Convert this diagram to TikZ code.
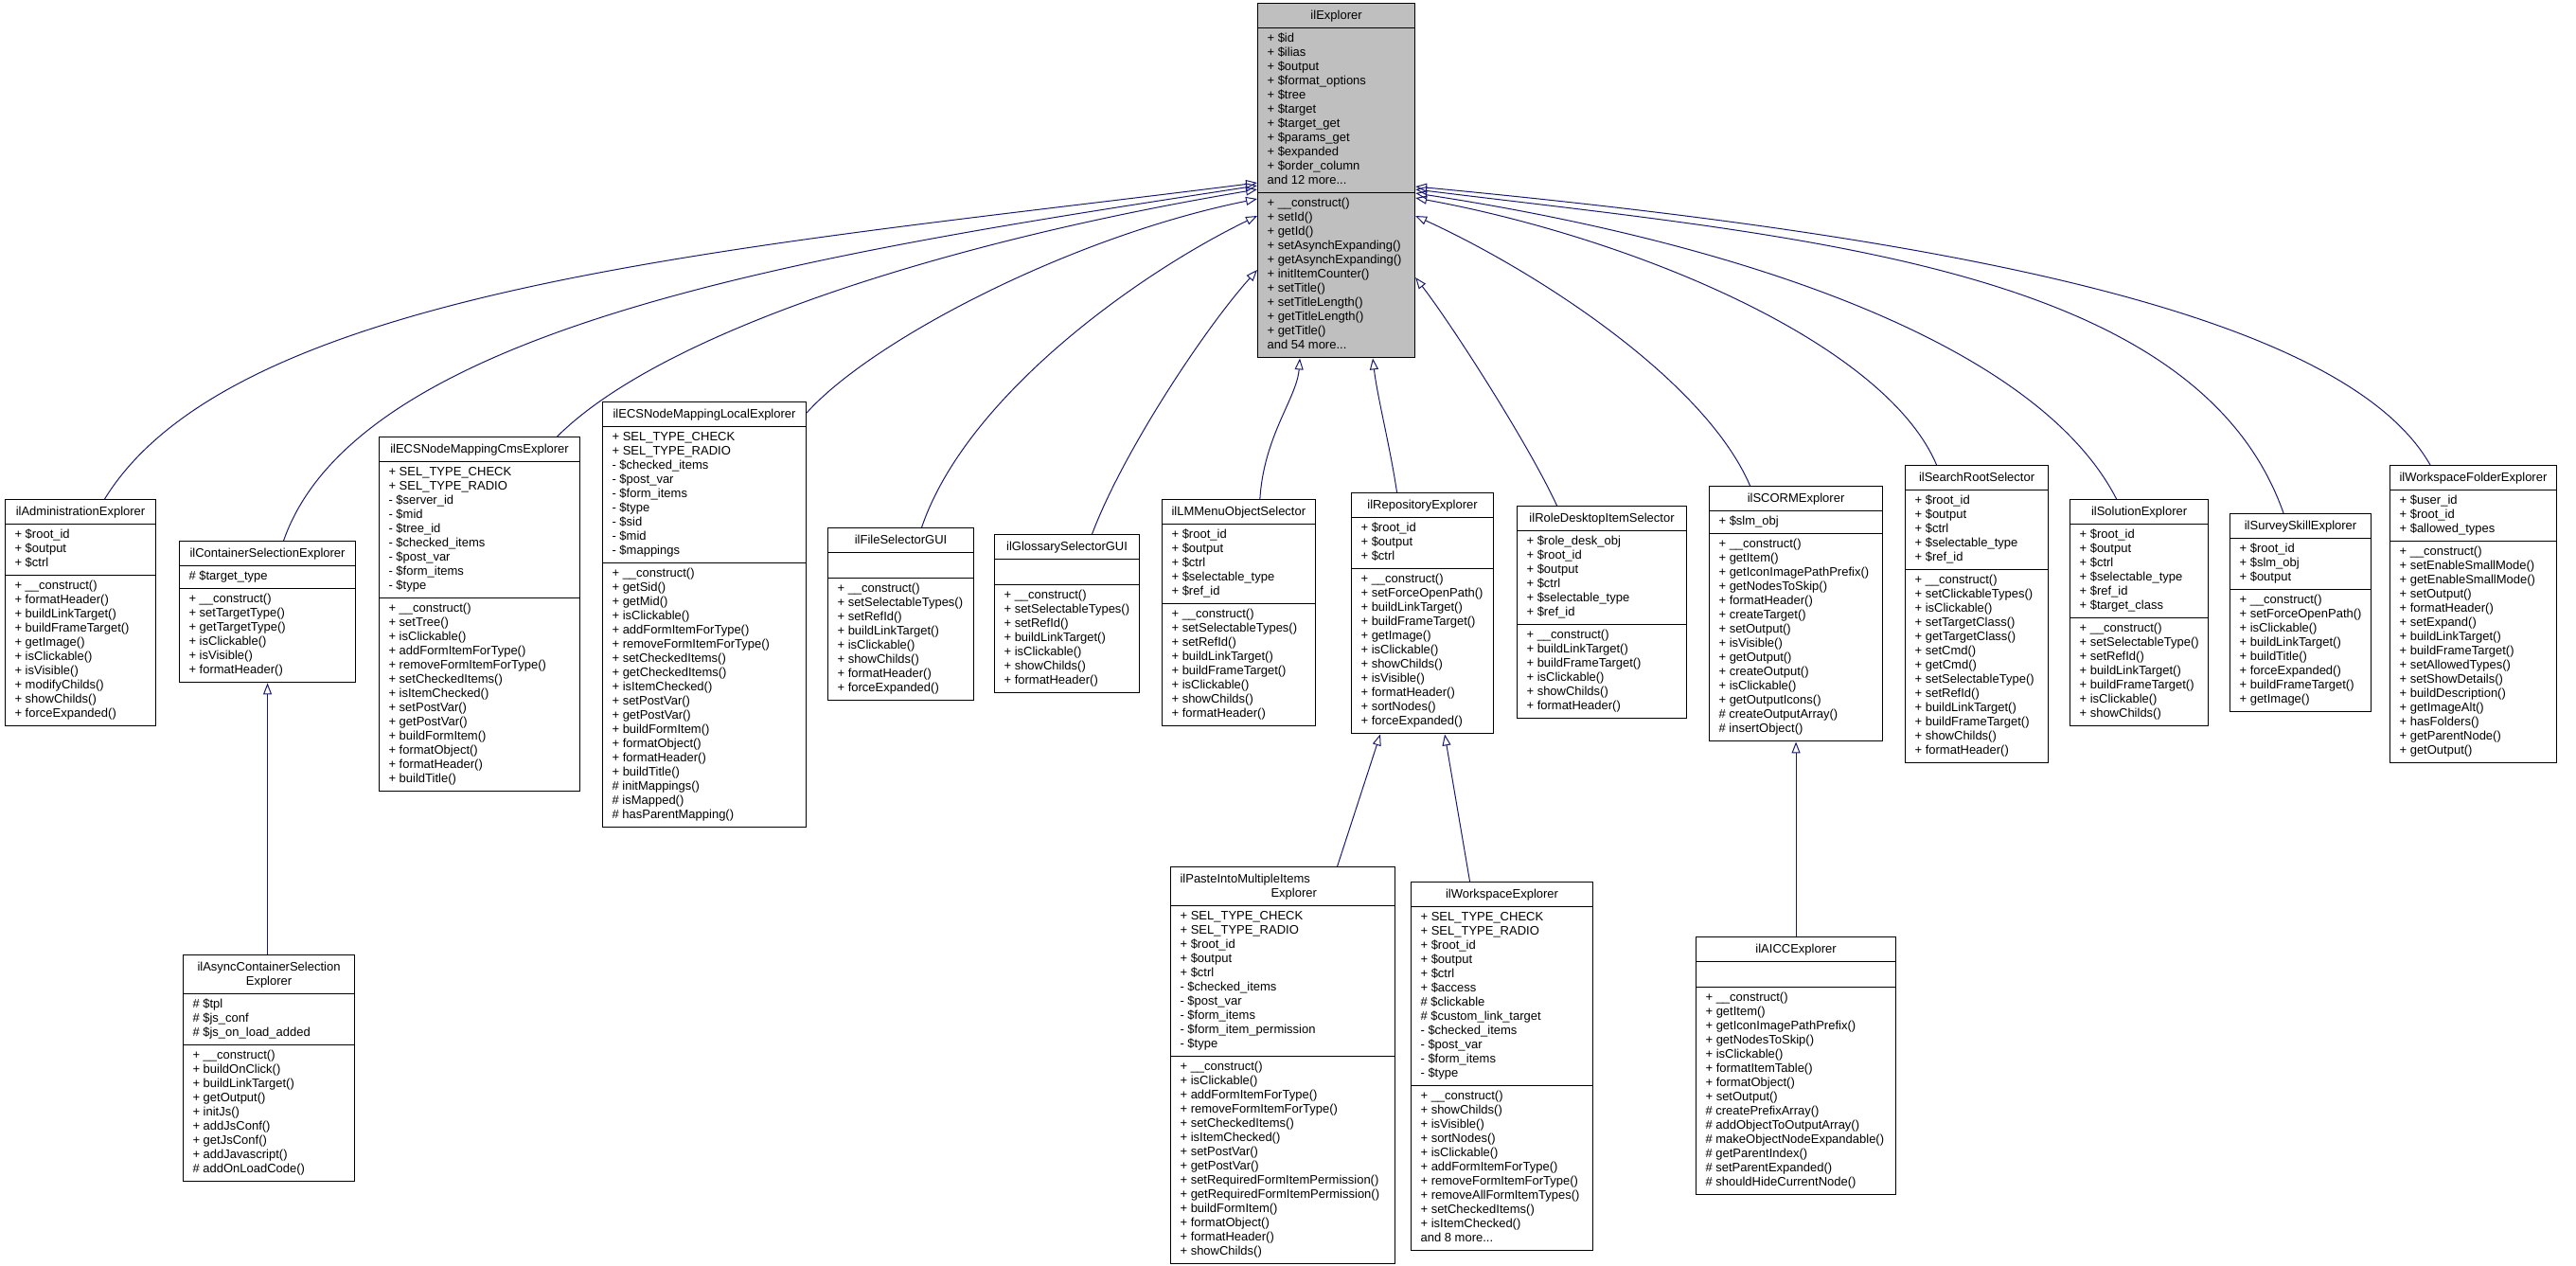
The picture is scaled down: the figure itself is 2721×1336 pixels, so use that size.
\documentclass[tikz,border=0pt]{standalone}
\usepackage{fontspec}
\setmainfont{Liberation Sans}
\usetikzlibrary{shapes.multipart,arrows.meta}
\definecolor{edgeblue}{RGB}{25,25,112}
\definecolor{rootgray}{RGB}{191,191,191}
\newcommand\ttl[1]{\rule[-5pt]{0pt}{17pt}#1}
\newcommand\st{\rule[-4.5pt]{0pt}{15pt}}
\newcommand\emptysec{\rule{0pt}{18pt}}
\begin{document}
\begin{tikzpicture}[x=1pt,y=-1pt,
  cls/.style={rectangle split, rectangle split parts=3, draw=black, line width=1.1pt,
    fill=white, inner xsep=10pt, inner ysep=4pt, align=left,
    rectangle split part align={center,left,left},
    font=\fontsize{13}{15}\selectfont, anchor=north west},
  inh/.style={draw=edgeblue, line width=1pt, -{Triangle[open,length=12pt,width=9pt]}}]
\path[use as bounding box] (0,0) rectangle (2721,1336);

% ---- base class ----
\node[cls, fill=rootgray, minimum width=166pt] (root) at (1328,3)
{\ttl{ilExplorer}\nodepart{two}\st+ \$id\\+ \$ilias\\+ \$output\\+ \$format\_options\\+ \$tree\\+ \$target\\+ \$target\_get\\+ \$params\_get\\+ \$expanded\\+ \$order\_column\\and 12 more...\st
\nodepart{three}\st+ \_\_construct()\\+ setId()\\+ getId()\\+ setAsynchExpanding()\\+ getAsynchExpanding()\\+ initItemCounter()\\+ setTitle()\\+ setTitleLength()\\+ getTitleLength()\\+ getTitle()\\and 54 more...\st};

% ---- children ----
\node[cls, minimum width=159pt] (adm) at (5,527)
{\ttl{ilAdministrationExplorer}\nodepart{two}\st+ \$root\_id\\+ \$output\\+ \$ctrl\st
\nodepart{three}\st+ \_\_construct()\\+ formatHeader()\\+ buildLinkTarget()\\+ buildFrameTarget()\\+ getImage()\\+ isClickable()\\+ isVisible()\\+ modifyChilds()\\+ showChilds()\\+ forceExpanded()\st};

\node[cls, minimum width=186pt] (csel) at (189,571)
{\ttl{ilContainerSelectionExplorer}\nodepart{two}\st\# \$target\_type\st
\nodepart{three}\st+ \_\_construct()\\+ setTargetType()\\+ getTargetType()\\+ isClickable()\\+ isVisible()\\+ formatHeader()\st};

\node[cls, minimum width=181pt] (async) at (193,1008)
{\rule{0pt}{12pt}ilAsyncContainerSelection\\\hfil Explorer\rule[-5pt]{0pt}{5pt}\nodepart{two}\st\# \$tpl\\\# \$js\_conf\\\# \$js\_on\_load\_added\st
\nodepart{three}\st+ \_\_construct()\\+ buildOnClick()\\+ buildLinkTarget()\\+ getOutput()\\+ initJs()\\+ addJsConf()\\+ getJsConf()\\+ addJavascript()\\\# addOnLoadCode()\st};

\node[cls, minimum width=212pt] (ecscms) at (400,461)
{\ttl{ilECSNodeMappingCmsExplorer}\nodepart{two}\st+ SEL\_TYPE\_CHECK\\+ SEL\_TYPE\_RADIO\\- \$server\_id\\- \$mid\\- \$tree\_id\\- \$checked\_items\\- \$post\_var\\- \$form\_items\\- \$type\st
\nodepart{three}\st+ \_\_construct()\\+ setTree()\\+ isClickable()\\+ addFormItemForType()\\+ removeFormItemForType()\\+ setCheckedItems()\\+ isItemChecked()\\+ setPostVar()\\+ getPostVar()\\+ buildFormItem()\\+ formatObject()\\+ formatHeader()\\+ buildTitle()\st};

\node[cls, minimum width=215pt] (ecsloc) at (636,424)
{\ttl{ilECSNodeMappingLocalExplorer}\nodepart{two}\st+ SEL\_TYPE\_CHECK\\+ SEL\_TYPE\_RADIO\\- \$checked\_items\\- \$post\_var\\- \$form\_items\\- \$type\\- \$sid\\- \$mid\\- \$mappings\st
\nodepart{three}\st+ \_\_construct()\\+ getSid()\\+ getMid()\\+ isClickable()\\+ addFormItemForType()\\+ removeFormItemForType()\\+ setCheckedItems()\\+ getCheckedItems()\\+ isItemChecked()\\+ setPostVar()\\+ getPostVar()\\+ buildFormItem()\\+ formatObject()\\+ formatHeader()\\+ buildTitle()\\\# initMappings()\\\# isMapped()\\\# hasParentMapping()\st};

\node[cls, minimum width=154pt] (filesel) at (874,557)
{\ttl{ilFileSelectorGUI}\nodepart{two}\emptysec
\nodepart{three}\st+ \_\_construct()\\+ setSelectableTypes()\\+ setRefId()\\+ buildLinkTarget()\\+ isClickable()\\+ showChilds()\\+ formatHeader()\\+ forceExpanded()\st};

\node[cls, minimum width=153pt] (gloss) at (1050,564)
{\ttl{ilGlossarySelectorGUI}\nodepart{two}\emptysec
\nodepart{three}\st+ \_\_construct()\\+ setSelectableTypes()\\+ setRefId()\\+ buildLinkTarget()\\+ isClickable()\\+ showChilds()\\+ formatHeader()\st};

\node[cls, minimum width=159pt] (lmmenu) at (1227,527)
{\ttl{ilLMMenuObjectSelector}\nodepart{two}\st+ \$root\_id\\+ \$output\\+ \$ctrl\\+ \$selectable\_type\\+ \$ref\_id\st
\nodepart{three}\st+ \_\_construct()\\+ setSelectableTypes()\\+ setRefId()\\+ buildLinkTarget()\\+ buildFrameTarget()\\+ isClickable()\\+ showChilds()\\+ formatHeader()\st};

\node[cls, minimum width=150pt] (repo) at (1427,520)
{\ttl{ilRepositoryExplorer}\nodepart{two}\st+ \$root\_id\\+ \$output\\+ \$ctrl\st
\nodepart{three}\st+ \_\_construct()\\+ setForceOpenPath()\\+ buildLinkTarget()\\+ buildFrameTarget()\\+ getImage()\\+ isClickable()\\+ showChilds()\\+ isVisible()\\+ formatHeader()\\+ sortNodes()\\+ forceExpanded()\st};

\node[cls, minimum width=179pt] (role) at (1602,534)
{\ttl{ilRoleDesktopItemSelector}\nodepart{two}\st+ \$role\_desk\_obj\\+ \$root\_id\\+ \$output\\+ \$ctrl\\+ \$selectable\_type\\+ \$ref\_id\st
\nodepart{three}\st+ \_\_construct()\\+ buildLinkTarget()\\+ buildFrameTarget()\\+ isClickable()\\+ showChilds()\\+ formatHeader()\st};

\node[cls, minimum width=183pt] (scorm) at (1805,513)
{\ttl{ilSCORMExplorer}\nodepart{two}\st+ \$slm\_obj\st
\nodepart{three}\st+ \_\_construct()\\+ getItem()\\+ getIconImagePathPrefix()\\+ getNodesToSkip()\\+ formatHeader()\\+ createTarget()\\+ setOutput()\\+ isVisible()\\+ getOutput()\\+ createOutput()\\+ isClickable()\\+ getOutputIcons()\\\# createOutputArray()\\\# insertObject()\st};

\node[cls, minimum width=151pt] (search) at (2012,491)
{\ttl{ilSearchRootSelector}\nodepart{two}\st+ \$root\_id\\+ \$output\\+ \$ctrl\\+ \$selectable\_type\\+ \$ref\_id\st
\nodepart{three}\st+ \_\_construct()\\+ setClickableTypes()\\+ isClickable()\\+ setTargetClass()\\+ getTargetClass()\\+ setCmd()\\+ getCmd()\\+ setSelectableType()\\+ setRefId()\\+ buildLinkTarget()\\+ buildFrameTarget()\\+ showChilds()\\+ formatHeader()\st};

\node[cls, minimum width=146pt] (sol) at (2186,527)
{\ttl{ilSolutionExplorer}\nodepart{two}\st+ \$root\_id\\+ \$output\\+ \$ctrl\\+ \$selectable\_type\\+ \$ref\_id\\+ \$target\_class\st
\nodepart{three}\st+ \_\_construct()\\+ setSelectableType()\\+ setRefId()\\+ buildLinkTarget()\\+ buildFrameTarget()\\+ isClickable()\\+ showChilds()\st};

\node[cls, minimum width=146pt] (survey) at (2355,542)
{\ttl{ilSurveySkillExplorer}\nodepart{two}\st+ \$root\_id\\+ \$slm\_obj\\+ \$output\st
\nodepart{three}\st+ \_\_construct()\\+ setForceOpenPath()\\+ isClickable()\\+ buildLinkTarget()\\+ buildTitle()\\+ forceExpanded()\\+ buildFrameTarget()\\+ getImage()\st};

\node[cls, minimum width=173pt] (wsf) at (2524,491)
{\ttl{ilWorkspaceFolderExplorer}\nodepart{two}\st+ \$user\_id\\+ \$root\_id\\+ \$allowed\_types\st
\nodepart{three}\st+ \_\_construct()\\+ setEnableSmallMode()\\+ getEnableSmallMode()\\+ setOutput()\\+ formatHeader()\\+ setExpand()\\+ buildLinkTarget()\\+ buildFrameTarget()\\+ setAllowedTypes()\\+ setShowDetails()\\+ buildDescription()\\+ getImageAlt()\\+ hasFolders()\\+ getParentNode()\\+ getOutput()\st};

% ---- grandchildren ----
\node[cls, minimum width=237pt, rectangle split part align={left,left,left}] (paste) at (1236,915)
{\rule{0pt}{12pt}ilPasteIntoMultipleItems\\\hspace*{96pt}Explorer\rule[-5pt]{0pt}{5pt}\nodepart{two}\st+ SEL\_TYPE\_CHECK\\+ SEL\_TYPE\_RADIO\\+ \$root\_id\\+ \$output\\+ \$ctrl\\- \$checked\_items\\- \$post\_var\\- \$form\_items\\- \$form\_item\_permission\\- \$type\st
\nodepart{three}\st+ \_\_construct()\\+ isClickable()\\+ addFormItemForType()\\+ removeFormItemForType()\\+ setCheckedItems()\\+ isItemChecked()\\+ setPostVar()\\+ getPostVar()\\+ setRequiredFormItemPermission()\\+ getRequiredFormItemPermission()\\+ buildFormItem()\\+ formatObject()\\+ formatHeader()\\+ showChilds()\st};

\node[cls, minimum width=192pt] (wsexp) at (1490,931)
{\ttl{ilWorkspaceExplorer}\nodepart{two}\st+ SEL\_TYPE\_CHECK\\+ SEL\_TYPE\_RADIO\\+ \$root\_id\\+ \$output\\+ \$ctrl\\+ \$access\\\# \$clickable\\\# \$custom\_link\_target\\- \$checked\_items\\- \$post\_var\\- \$form\_items\\- \$type\st
\nodepart{three}\st+ \_\_construct()\\+ showChilds()\\+ isVisible()\\+ sortNodes()\\+ isClickable()\\+ addFormItemForType()\\+ removeFormItemForType()\\+ removeAllFormItemTypes()\\+ setCheckedItems()\\+ isItemChecked()\\and 8 more...\st};

\node[cls, minimum width=211pt] (aicc) at (1791,989)
{\ttl{ilAICCExplorer}\nodepart{two}\emptysec
\nodepart{three}\st+ \_\_construct()\\+ getItem()\\+ getIconImagePathPrefix()\\+ getNodesToSkip()\\+ isClickable()\\+ formatItemTable()\\+ formatObject()\\+ setOutput()\\\# createPrefixArray()\\\# addObjectToOutputArray()\\\# makeObjectNodeExpandable()\\\# getParentIndex()\\\# setParentExpanded()\\\# shouldHideCurrentNode()\st};

% ---- inheritance edges ----
\draw[inh] ([xshift=25.5pt]adm.north) .. controls (250,300) and (800,260) .. ([yshift=-190pt]root.north west);
\draw[inh] ([xshift=17pt]csel.north) .. controls (380,340) and (880,265) .. ([yshift=-193pt]root.north west);
\draw[inh] ([xshift=82pt]ecscms.north) .. controls (700,350) and (1000,255) .. ([yshift=-197pt]root.north west);
\draw[inh] ([yshift=-12pt]ecsloc.north east) .. controls (920,360) and (1130,250) .. ([yshift=-207pt]root.north west);
\draw[inh] ([xshift=22pt]filesel.north) .. controls (1020,420) and (1200,290) .. ([yshift=-225pt]root.north west);
\draw[inh] ([xshift=26.5pt]gloss.north) .. controls (1185,480) and (1270,350) .. ([yshift=-282pt]root.north west);
\draw[inh] ([xshift=22.5pt]lmmenu.north) .. controls (1335,460) and (1370,420) .. ([xshift=45pt]root.south west);
\draw[inh] ([xshift=-27pt]repo.north) .. controls (1468,470) and (1455,420) .. ([xshift=122pt]root.south west);
\draw[inh] ([xshift=-47.5pt]role.north) .. controls (1615,470) and (1535,345) .. ([yshift=-290pt]root.north east);
\draw[inh] ([xshift=-48.5pt]scorm.north) .. controls (1800,400) and (1620,285) .. ([yshift=-225pt]root.north east);
\draw[inh] ([xshift=-42.5pt]search.north) .. controls (1990,360) and (1720,250) .. ([yshift=-206pt]root.north east);
\draw[inh] ([xshift=-24pt]sol.north) .. controls (2150,360) and (1830,255) .. ([yshift=-201pt]root.north east);
\draw[inh] ([xshift=-18pt]survey.north) .. controls (2320,280) and (1900,250) .. ([yshift=-197pt]root.north east);
\draw[inh] ([xshift=-45.5pt]wsf.north) .. controls (2470,320) and (2000,245) .. ([yshift=-194pt]root.north east);

\draw[inh] (csel.south |- async.north) -- (csel.south);
\draw[inh] (aicc.north) -- (scorm.south);
\draw[inh] ([xshift=57.5pt]paste.north) -- ([xshift=31pt]repo.south west);
\draw[inh] ([xshift=-34pt]wsexp.north) -- ([xshift=99pt]repo.south west);
\end{tikzpicture}
\end{document}
